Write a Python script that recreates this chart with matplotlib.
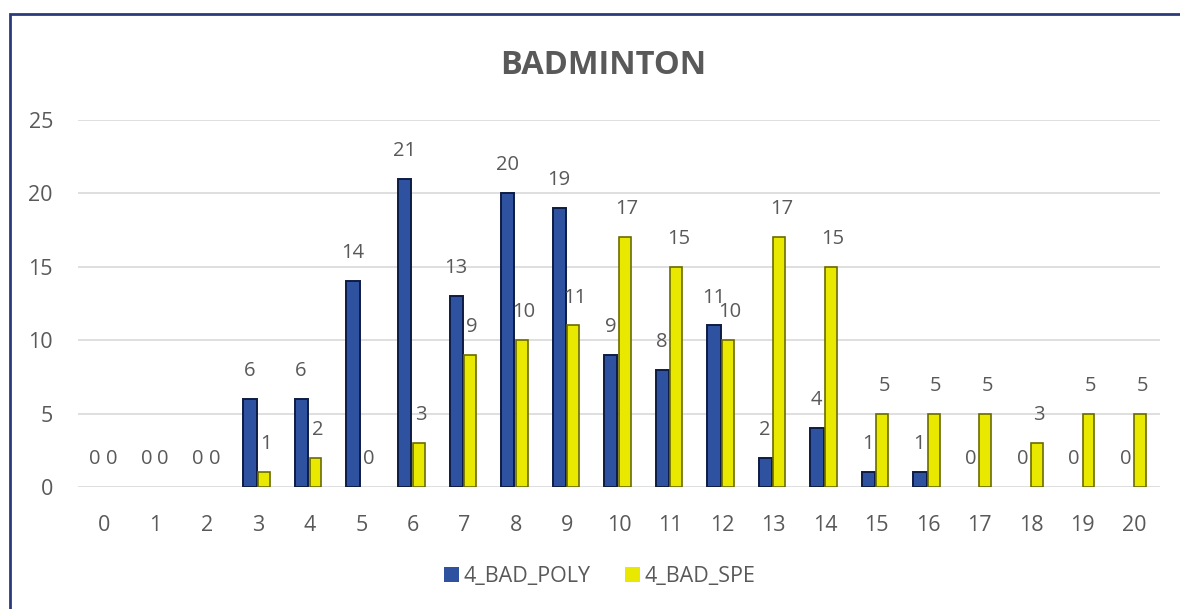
import matplotlib.pyplot as plt
from matplotlib.patches import Rectangle
import numpy as np

plt.rcParams['font.family'] = ['Open Sans', 'DejaVu Sans']

categories = [str(i) for i in range(21)]
poly_values = [0, 0, 0, 6, 6, 14, 21, 13, 20, 19, 9, 8, 11, 2, 4, 1, 1, 0, 0, 0, 0]
spe_values = [0, 0, 0, 1, 2, 0, 3, 9, 10, 11, 17, 15, 10, 17, 15, 5, 5, 5, 3, 5, 5]
series_names = ['4_BAD_POLY', '4_BAD_SPE']

text_color = '#595959'
poly_color = '#2F52A0'
poly_edge = '#0E1C44'
spe_color = '#E8E800'
spe_edge = '#6B6B00'


def plot_chart():
    fig = plt.figure(figsize=(11.8, 6.09), dpi=100)
    ax = fig.add_axes([0.0661, 0.2003, 0.917, 0.603])

    x = np.arange(len(categories))
    # no outline on zero-height bars so they don't show as thin lines
    poly_edges = [poly_edge if v else 'none' for v in poly_values]
    spe_edges = [spe_edge if v else 'none' for v in spe_values]
    b1 = ax.bar(x - 0.16, poly_values, width=0.26, color=poly_color,
                edgecolor=poly_edges, linewidth=1.4, label=series_names[0], zorder=3)
    b2 = ax.bar(x + 0.11, spe_values, width=0.23, color=spe_color,
                edgecolor=spe_edges, linewidth=1.2, label=series_names[1], zorder=3)

    # value labels above each bar
    for xi, v in zip(x, poly_values):
        ax.text(xi - 0.17, v + 1.9, str(v), ha='center', va='center',
                fontsize=14.5, color=text_color)
    for xi, v in zip(x, spe_values):
        ax.text(xi + 0.15, v + 1.9, str(v), ha='center', va='center',
                fontsize=14.5, color=text_color)

    ax.set_xlim(-0.5, 20.5)
    ax.set_ylim(0, 25)
    ax.set_yticks([0, 5, 10, 15, 20, 25])
    ax.set_xticks(x)
    ax.set_xticklabels(categories)
    ax.tick_params(axis='both', length=0, labelsize=15.5, labelcolor=text_color)
    ax.tick_params(axis='x', pad=20)
    ax.tick_params(axis='y', pad=18)
    ax.grid(axis='y', color='#D9D9D9', linewidth=1.2, zorder=0)
    ax.set_axisbelow(True)
    for s in ax.spines.values():
        s.set_visible(False)

    fig.text(0.511, 0.893, 'BADMINTON', ha='center', va='center',
             fontsize=23.5, fontweight='bold', color=text_color)

    fig.legend(handles=[b1, b2], loc='center', bbox_to_anchor=(0.508, 0.053),
               ncol=2, frameon=False, fontsize=15.5, labelcolor=text_color,
               handlelength=0.7, handleheight=0.7, columnspacing=1.6,
               handletextpad=0.2)

    # outer chart frame (left and top visible)
    fig.patches.append(Rectangle((10 / 1180, -0.05), 1.2, 0.05 + (609 - 14) / 609,
                                 transform=fig.transFigure, fill=False,
                                 edgecolor='#2B3A7A', linewidth=2))

    fig.savefig('out.png', dpi=100)
    plt.close(fig)


if __name__ == "__main__":
    plot_chart()
